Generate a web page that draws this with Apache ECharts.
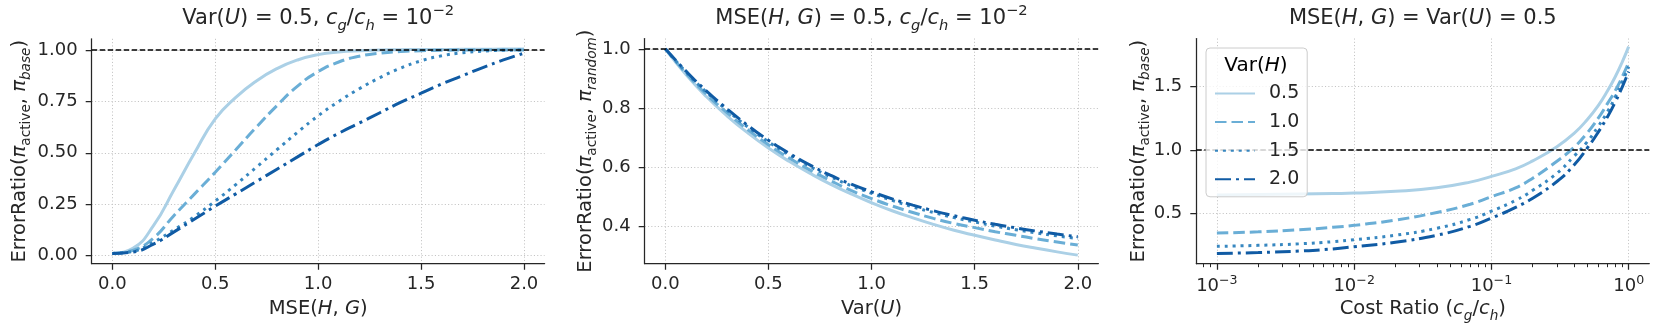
<!DOCTYPE html>
<html><head><meta charset="utf-8">
<script src="https://cdn.jsdelivr.net/npm/echarts@6/dist/echarts.min.js"></script>
<style>html,body{margin:0;padding:0;background:#fff}#c{width:1661px;height:335px}</style>
</head><body><div id="c"></div>
<script>
// ---------------- data ----------------
const varH = ['0.5', '1.0', '1.5', '2.0'];

// Panel 1: x = MSE(H,G)
const mseX = [0,0.1,0.2,0.3,0.4,0.5,0.6,0.7,0.8,0.9,1.0,1.1,1.2,1.3,1.4,1.5,1.6,1.7,1.8,1.9,2.0];
const p1VarH05 = [0.01,0.035,0.145,0.32,0.50,0.665,0.77,0.85,0.91,0.952,0.978,0.991,0.997,1.0,1.002,1.003,1.003,1.004,1.004,1.005,1.005];
const p1VarH10 = [0.01,0.025,0.085,0.195,0.30,0.405,0.515,0.625,0.73,0.825,0.895,0.942,0.97,0.985,0.993,0.997,0.999,1.0,1.0,1.0,1.0];
const p1VarH15 = [0.01,0.02,0.065,0.125,0.19,0.265,0.345,0.43,0.515,0.60,0.68,0.75,0.812,0.866,0.912,0.948,0.972,0.987,0.995,0.999,1.0];
const p1VarH20 = [0.01,0.017,0.055,0.115,0.178,0.24,0.30,0.36,0.42,0.48,0.54,0.595,0.645,0.695,0.745,0.79,0.835,0.875,0.915,0.952,0.985];

// Panel 2: x = Var(U)
const varUX = [0,0.1,0.2,0.3,0.4,0.5,0.6,0.7,0.8,0.9,1.0,1.1,1.2,1.3,1.4,1.5,1.6,1.7,1.8,1.9,2.0];
const p2VarH05 = [1.0,0.913,0.838,0.773,0.716,0.665,0.620,0.580,0.543,0.510,0.480,0.453,0.429,0.407,0.387,0.370,0.354,0.339,0.326,0.314,0.303];
const p2VarH10 = [1.0,0.918,0.846,0.784,0.727,0.676,0.631,0.591,0.555,0.522,0.494,0.469,0.447,0.427,0.410,0.396,0.382,0.370,0.358,0.347,0.337];
const p2VarH15 = [1.0,0.922,0.853,0.792,0.736,0.686,0.642,0.603,0.568,0.538,0.512,0.488,0.466,0.447,0.430,0.415,0.401,0.389,0.378,0.368,0.359];
const p2VarH20 = [1.0,0.925,0.857,0.797,0.741,0.691,0.647,0.608,0.573,0.543,0.517,0.493,0.472,0.453,0.436,0.421,0.407,0.395,0.384,0.374,0.365];

// Panel 3: x = cost ratio c_g/c_h (log axis)
const costX = [0.001,0.002,0.004,0.007,0.01,0.02,0.04,0.07,0.1,0.15,0.2,0.3,0.4,0.5,0.6,0.7,0.8,0.9,1.0];
const p3VarH05 = [0.643,0.647,0.651,0.655,0.658,0.672,0.70,0.745,0.79,0.85,0.913,1.025,1.13,1.24,1.35,1.465,1.58,1.698,1.816];
const p3VarH10 = [0.342,0.352,0.368,0.388,0.403,0.445,0.505,0.57,0.63,0.70,0.776,0.91,1.02,1.135,1.25,1.365,1.47,1.58,1.692];
const p3VarH15 = [0.237,0.245,0.257,0.274,0.29,0.325,0.38,0.45,0.515,0.60,0.68,0.815,0.95,1.065,1.185,1.30,1.42,1.54,1.658];
const p3VarH20 = [0.18,0.188,0.20,0.217,0.234,0.27,0.325,0.395,0.46,0.545,0.618,0.75,0.88,1.015,1.14,1.26,1.38,1.50,1.618];

// reference line and ticks
const refLine = 1.0;
const xTicksLin = [0, 0.5, 1.0, 1.5, 2.0];
const yTicks1 = [0, 0.25, 0.5, 0.75, 1.0];
const yTicks2 = [0.4, 0.6, 0.8, 1.0];
const yTicks3 = [0.5, 1.0, 1.5];
const xTicksLog = [0.001, 0.01, 0.1, 1];
const xMinorLog = [0.0007,0.0008,0.0009,0.002,0.003,0.004,0.005,0.006,0.007,0.008,0.009,
  0.02,0.03,0.04,0.05,0.06,0.07,0.08,0.09,0.2,0.3,0.4,0.5,0.6,0.7,0.8,0.9];

// ---------------- styling ----------------
const F = 'DejaVu Sans';
const INK = '#262626';
const colors = ['#abd0e6', '#6aaed6', '#3787c0', '#105ba4'];
const dashes = ['solid', [11.5, 5], [3, 4.9], [16, 5, 3, 5]];
const LW = 3;
const TICK = 18, LABEL = 19.5, TITLE = 21;

function R(s) {
  const b = {fontFamily: F, fontWeight: 'normal', color: INK};
  return {
    n: Object.assign({fontSize: s, lineHeight: s * 1.4}, b),
    i: Object.assign({fontSize: s, fontStyle: 'italic', lineHeight: s * 1.4}, b),
    sub: Object.assign({fontSize: s * 0.7, lineHeight: s * 0.7, verticalAlign: 'bottom'}, b),
    subi: Object.assign({fontSize: s * 0.7, fontStyle: 'italic', lineHeight: s * 0.7, verticalAlign: 'bottom'}, b),
    sup: Object.assign({fontSize: s * 0.7, lineHeight: s * 0.7, verticalAlign: 'top'}, b)
  };
}

const titles = [
  '{n|Var(}{i|U}{n|) = 0.5, }{i|c}{subi|g}{n|/}{i|c}{subi|h}{n| = 10}{sup|\u22122}',
  '{n|MSE(}{i|H}{n|, }{i|G}{n|) = 0.5, }{i|c}{subi|g}{n|/}{i|c}{subi|h}{n| = 10}{sup|\u22122}',
  '{n|MSE(}{i|H}{n|, }{i|G}{n|) = Var(}{i|U}{n|) = 0.5}'
];
const yNames = [
  '{n|ErrorRatio(}{i|\u03c0}{sub|active}{n|, }{i|\u03c0}{subi|base}{n|)}',
  '{n|ErrorRatio(}{i|\u03c0}{sub|active}{n|, }{i|\u03c0}{subi|random}{n|)}',
  '{n|ErrorRatio(}{i|\u03c0}{sub|active}{n|, }{i|\u03c0}{subi|base}{n|)}'
];
const xNames = [
  '{n|MSE(}{i|H}{n|, }{i|G}{n|)}',
  '{n|Var(}{i|U}{n|)}',
  '{n|Cost Ratio (}{i|c}{subi|g}{n|/}{i|c}{subi|h}{n|)}'
];

const grids = [
  {left: 91.7, right: 1661 - 544.6, top: 38.8, bottom: 335 - 263.7},
  {left: 644.7, right: 1661 - 1098.4, top: 38.5, bottom: 335 - 263.7},
  {left: 1196.3, right: 1661 - 1649.3, top: 38.5, bottom: 335 - 263.7}
].map(g => Object.assign({containLabel: false, outerBoundsMode: 'none'}, g));

const axisLine = {show: true, onZero: false, lineStyle: {color: INK, width: 1.25}};
const tickStyle = {color: INK, width: 1.25};
const split = {show: true, lineStyle: {color: '#c4c4c4', width: 1, type: [1.1, 2.2]}};
const labelBase = {fontFamily: F, fontSize: TICK, color: INK};

function linX(gi, name) {
  return {
    gridIndex: gi, type: 'value', position: 'bottom', min: -0.1, max: 2.1,
    axisLine, splitLine: split,
    axisTick: {show: true, length: 6, lineStyle: tickStyle, customValues: xTicksLin},
    axisLabel: Object.assign({customValues: xTicksLin, margin: 12, formatter: v => v.toFixed(1)}, labelBase),
    name, nameLocation: 'middle', nameGap: 32, nameMoveOverlap: false,
    nameTextStyle: {rich: R(LABEL)}
  };
}
function yAx(gi, min, max, ticks, dec, name, gap) {
  return {
    gridIndex: gi, type: 'value', position: 'left', min, max,
    axisLine, splitLine: split,
    axisTick: {show: true, length: 6, lineStyle: tickStyle, customValues: ticks},
    axisLabel: Object.assign({customValues: ticks, margin: 14, formatter: v => v.toFixed(dec)}, labelBase),
    name, nameLocation: 'middle', nameRotate: 90, nameGap: gap, nameMoveOverlap: false,
    nameTextStyle: {rich: R(LABEL)}
  };
}

const logMin = 0.000708, logMax = 1.413;
const xAxes = [
  linX(0, xNames[0]),
  linX(1, xNames[1]),
  {
    gridIndex: 2, type: 'log', logBase: 10, position: 'bottom', min: logMin, max: logMax,
    axisLine, splitLine: split,
    axisTick: {show: true, length: 6, lineStyle: tickStyle, customValues: xTicksLog},
    axisLabel: {
      customValues: xTicksLog, margin: 11,
      formatter: v => '{b|10}{sup|' + String(Math.round(Math.log10(v))).replace('-', '\u2212') + '}',
      rich: {
        b: {fontFamily: F, fontSize: TICK, color: INK, lineHeight: 24},
        sup: {fontFamily: F, fontSize: 12.6, color: INK, lineHeight: 12, verticalAlign: 'top'}
      }
    },
    name: xNames[2], nameLocation: 'middle', nameGap: 32, nameMoveOverlap: false,
    nameTextStyle: {rich: R(LABEL)}
  },
  {
    gridIndex: 2, type: 'log', logBase: 10, position: 'bottom', min: logMin, max: logMax,
    axisLine: {show: false, onZero: false}, splitLine: {show: false},
    axisTick: {show: true, length: 3.5, lineStyle: {color: INK, width: 1}, customValues: xMinorLog},
    axisLabel: {show: false}
  }
];
const yAxes = [
  yAx(0, -0.04, 1.055, yTicks1, 2, yNames[0], 58),
  yAx(1, 0.274, 1.035, yTicks2, 1, yNames[1], 45),
  yAx(2, 0.10, 1.88, yTicks3, 1, yNames[2], 44)
];

const refMark = {
  silent: true, symbol: ['none', 'none'], label: {show: false},
  lineStyle: {color: '#000', type: [5.5, 2.5], width: 1.5},
  emphasis: {disabled: true},
  data: [{yAxis: refLine}]
};

const panels = [
  {xs: mseX, ys: [p1VarH05, p1VarH10, p1VarH15, p1VarH20], xi: 0},
  {xs: varUX, ys: [p2VarH05, p2VarH10, p2VarH15, p2VarH20], xi: 1},
  {xs: costX, ys: [p3VarH05, p3VarH10, p3VarH15, p3VarH20], xi: 2}
];
const series = [];
panels.forEach((p, pi) => {
  p.ys.forEach((ys, k) => {
    const s = {
      type: 'line', name: varH[k], xAxisIndex: p.xi, yAxisIndex: pi,
      data: p.xs.map((x, j) => [x, ys[j]]),
      symbol: 'none', smooth: 0.5,
      lineStyle: {color: colors[k], width: LW, type: dashes[k]},
      itemStyle: {color: colors[k]},
      emphasis: {disabled: true}, z: 3
    };
    if (k === 0) s.markLine = refMark;
    series.push(s);
  });
});

const titleCenters = [318.2, 871.5, 1422.8];
const option = {
  animation: false,
  backgroundColor: '#fff',
  title: titles.map((t, i) => ({
    text: t, left: titleCenters[i], top: 4, textAlign: 'center', padding: 0,
    textStyle: {fontWeight: 'normal', rich: R(TITLE)}
  })),
  grid: grids,
  xAxis: xAxes,
  yAxis: yAxes,
  legend: {
    data: varH, orient: 'vertical', left: 1206, top: 48,
    padding: [36, 8, 8, 8],
    itemWidth: 40, itemHeight: 19, itemGap: 9.6,
    itemStyle: {opacity: 0},
    backgroundColor: 'rgba(255,255,255,0.8)', borderColor: '#cccccc', borderWidth: 1, borderRadius: 4,
    textStyle: {fontFamily: F, fontSize: 19, color: INK, lineHeight: 19, padding: [0, 0, 0, 9]},
    selectedMode: false, z: 10
  },
  graphic: [{
    type: 'text', x: 1256, y: 66, z: 100,
    style: {text: '{n|Var(}{i|H}{n|)}', rich: R(20), align: 'center', verticalAlign: 'middle'}
  }],
  series
};
const chart = echarts.init(document.getElementById('c'), null, {renderer: 'canvas'});
chart.setOption(option);
</script>
</body></html>
